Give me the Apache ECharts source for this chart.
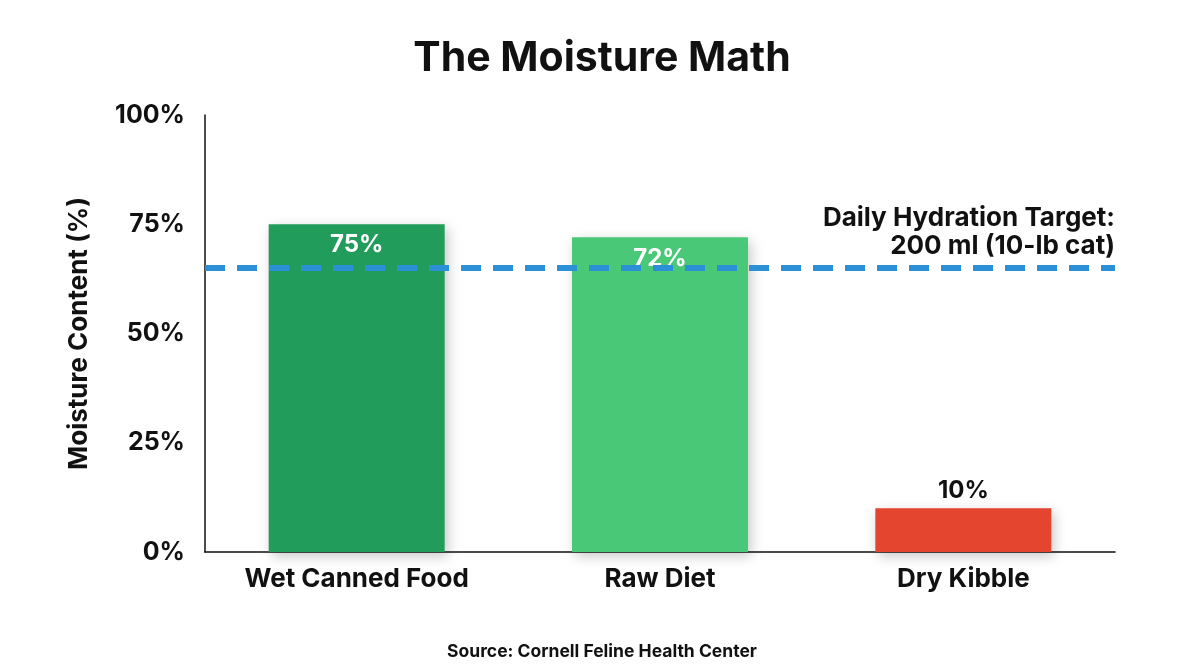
<!DOCTYPE html>
<html><head><meta charset="utf-8">
<script src="https://cdn.jsdelivr.net/npm/echarts@6/dist/echarts.min.js"></script>
<style>html,body{margin:0;padding:0;background:#fff}#c{width:1204px;height:672px}</style>
</head><body><div id="c"></div>
<script>
const categories = ['Wet Canned Food', 'Raw Diet', 'Dry Kibble'];
const moisture = [75, 72, 10];
const barColors = ['#219c5b', '#49c878', '#e4452f'];
const yTicks = [0, 25, 50, 75, 100];
const targetValue = 65;
const targetLabel = 'Daily Hydration Target:\n200 ml (10-lb cat)';
const FF = 'Inter, "Noto Sans", sans-serif';

const chart = echarts.init(document.getElementById('c'));
chart.setOption({
  backgroundColor: '#fff',
  animation: false,
  title: [{
    text: 'The Moisture Math', left: 'center', top: 33,
    textStyle: {fontFamily: FF, fontSize: 41, fontWeight: 'bold', color: '#111'}
  }, {
    text: 'Source: Cornell Feline Health Center', left: 'center', top: 638,
    textStyle: {fontFamily: FF, fontSize: 17.5, fontWeight: 'bold', color: '#111'}
  }],
  grid: {left: 205, right: 89, top: 115, bottom: 120},
  xAxis: {
    type: 'category', data: categories,
    axisLine: {lineStyle: {color: '#111', width: 1.5}},
    axisTick: {show: false},
    axisLabel: {fontFamily: FF, fontSize: 26, fontWeight: 'bold', color: '#111', margin: 14}
  },
  yAxis: {
    type: 'value', min: 0, max: 100, interval: 25,
    name: 'Moisture Content (%)', nameLocation: 'middle', nameGap: 113,
    nameTextStyle: {fontFamily: FF, fontSize: 26, fontWeight: 'bold', color: '#111'},
    axisLine: {show: true, lineStyle: {color: '#111', width: 1.5}},
    axisTick: {show: false},
    splitLine: {show: false},
    axisLabel: {fontFamily: FF, fontSize: 25, fontWeight: 'bold', color: '#111', margin: 20,
      formatter: v => yTicks.includes(v) ? v + '%' : ''}
  },
  series: [{
    type: 'bar', barWidth: 176,
    data: moisture.map((v, i) => ({
      value: v,
      itemStyle: {color: barColors[i], shadowBlur: 12, shadowColor: 'rgba(0,0,0,0.22)', shadowOffsetX: 3, shadowOffsetY: 4},
      label: v > 20
        ? {show: true, position: 'insideTop', distance: 9, color: '#fff'}
        : {show: true, position: 'top', distance: 6, color: '#111'}
    })),
    label: {formatter: '{c}%', fontFamily: FF, fontSize: 24, fontWeight: 'bold'},
    markLine: {
      silent: true, symbol: 'none',
      lineStyle: {color: '#2b90d6', width: 6, type: [20, 12]},
      label: {show: true, position: 'insideEndTop', formatter: targetLabel, align: 'right',
        fontFamily: FF, fontSize: 26, fontWeight: 'bold', color: '#111', lineHeight: 28, distance: [0, 8]},
      data: [{yAxis: targetValue}]
    }
  }]
});
</script></body></html>
